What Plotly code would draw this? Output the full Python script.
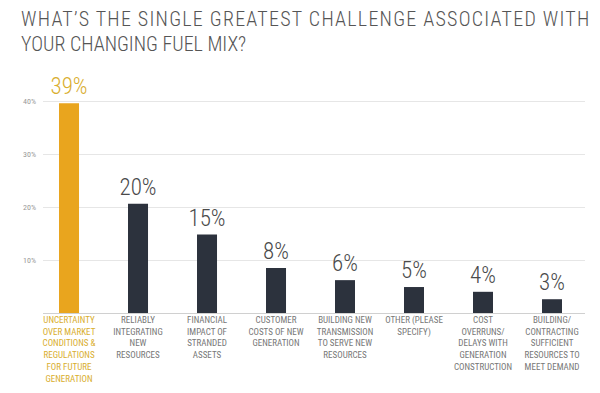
import plotly.graph_objects as go

categories = [
    "UNCERTAINTY<br>OVER MARKET<br>CONDITIONS &<br>REGULATIONS<br>FOR FUTURE<br>GENERATION",
    "RELIABLY<br>INTEGRATING<br>NEW<br>RESOURCES",
    "FINANCIAL<br>IMPACT OF<br>STRANDED<br>ASSETS",
    "CUSTOMER<br>COSTS OF NEW<br>GENERATION",
    "BUILDING NEW<br>TRANSMISSION<br>TO SERVE NEW<br>RESOURCES",
    "OTHER (PLEASE<br>SPECIFY)",
    "COST<br>OVERRUNS/<br>DELAYS WITH<br>GENERATION<br>CONSTRUCTION",
    "BUILDING/<br>CONTRACTING<br>SUFFICIENT<br>RESOURCES TO<br>MEET DEMAND",
]
values = [39.6, 20.6, 14.8, 8.5, 6.2, 4.9, 4.0, 2.6]
value_labels = ["39%", "20%", "15%", "8%", "6%", "5%", "4%", "3%"]
y_ticks = [10, 20, 30, 40]
y_tick_labels = ["10%", "20%", "30%", "40%"]
title_lines = ["WHAT’S THE SINGLE GREATEST CHALLENGE ASSOCIATED WITH", "YOUR CHANGING FUEL MIX?"]

FONT = "Roboto Condensed, DejaVu Sans Condensed, sans-serif"
GOLD = "#E9A51E"
GOLD_TEXT = "#D9AE2E"
DARK = "#2C323D"

x = list(range(len(categories)))
colors = [GOLD] + [DARK] * (len(categories) - 1)
label_colors = [GOLD_TEXT] + ["#4A4A4A"] * (len(categories) - 1)

fig = go.Figure()
fig.add_trace(go.Bar(
    x=x, y=values, width=0.29,
    marker=dict(color=colors, line=dict(width=0)),
    text=value_labels, textposition="outside", cliponaxis=False,
    constraintext="none",
    textfont=dict(family=FONT, size=23, color=label_colors, weight=300),
    hoverinfo="skip",
))

ticktext = list(categories)
ticktext[0] = "<span style='color:%s'>" % GOLD_TEXT + categories[0].replace(
    "<br>", "</span><br><span style='color:%s'>" % GOLD_TEXT) + "</span>"

spacings = ["1.25px", "0px"]
for i, line in enumerate(title_lines):
    fig.add_annotation(
        text="<span style='letter-spacing:%s'>%s</span>" % (spacings[i], line),
        xref="paper", yref="paper", x=0, xanchor="left",
        xshift=-24, y=1, yanchor="middle", yshift=[71.5, 46.5][i],
        showarrow=False,
        font=dict(family=FONT, size=20, color="#555555", weight=300),
    )

fig.update_layout(
    width=600, height=393,
    margin=dict(l=43, r=15, t=90, b=80),
    paper_bgcolor="white", plot_bgcolor="white",
    showlegend=False,
    xaxis=dict(
        range=[-0.377, 7.478],
        tickvals=x, ticktext=ticktext,
        tickfont=dict(family=FONT, size=9, color="#777777"),
        showgrid=False, zeroline=False, showline=False,
        ticks="", automargin=False,
    ),
    yaxis=dict(
        range=[0, 42.08],
        tickvals=y_ticks, ticktext=y_tick_labels,
        tickfont=dict(family=FONT, size=8, color="#999999"),
        showgrid=True, gridcolor="#E6E6E6", gridwidth=1,
        zeroline=True, zerolinecolor="#D0D0D0", zerolinewidth=1,
        ticklabelstandoff=6, automargin=False,
    ),
)

fig.write_html("out.html", config={"displayModeBar": False},
               post_script="document.body.style.margin='0';")
